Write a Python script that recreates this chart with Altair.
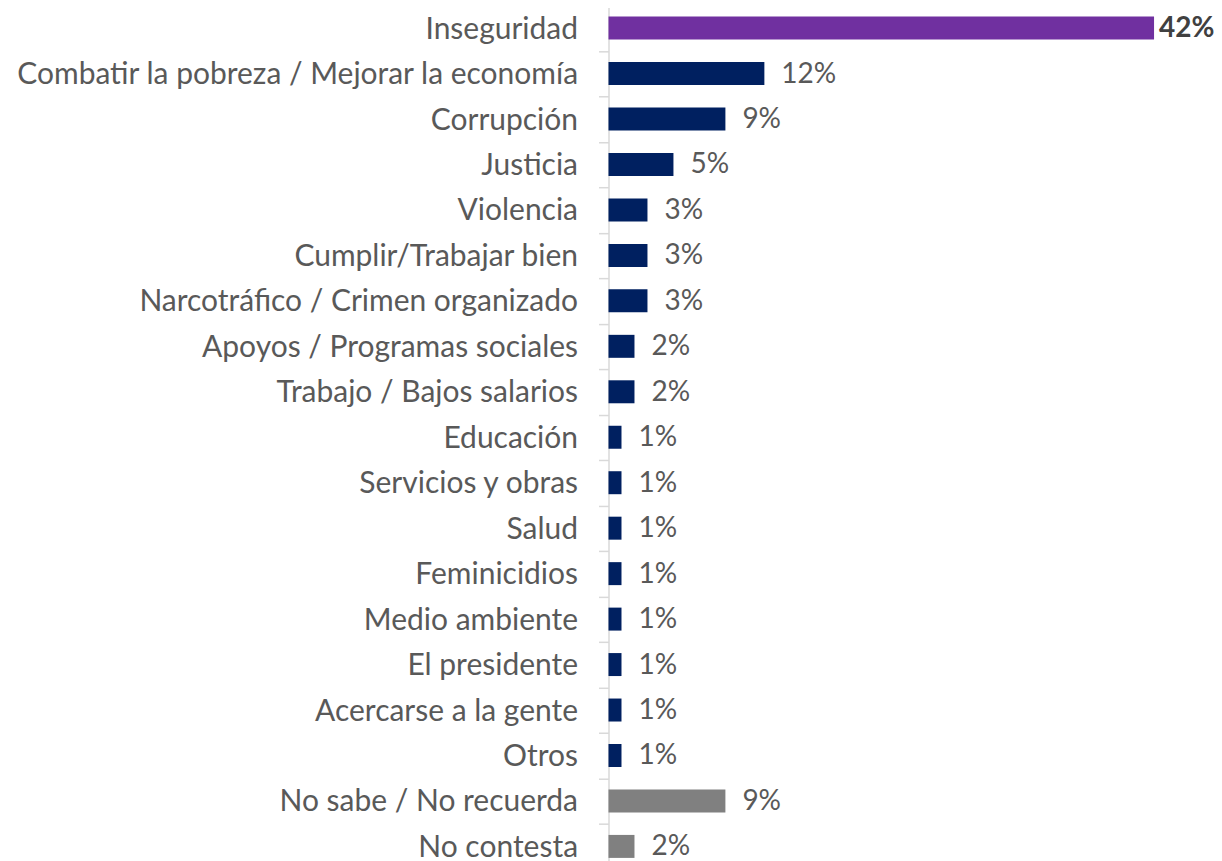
import altair as alt
import pandas as pd

categories = [
    "Inseguridad",
    "Combatir la pobreza / Mejorar la economía",
    "Corrupción",
    "Justicia",
    "Violencia",
    "Cumplir/Trabajar bien",
    "Narcotráfico / Crimen organizado",
    "Apoyos / Programas sociales",
    "Trabajo / Bajos salarios",
    "Educación",
    "Servicios y obras",
    "Salud",
    "Feminicidios",
    "Medio ambiente",
    "El presidente",
    "Acercarse a la gente",
    "Otros",
    "No sabe / No recuerda",
    "No contesta",
]
values = [42, 12, 9, 5, 3, 3, 3, 2, 2, 1, 1, 1, 1, 1, 1, 1, 1, 9, 2]
groups = ["top"] + ["tema"] * 16 + ["ns"] * 2

group_names = ["top", "tema", "ns"]
group_colors = ["#7030A0", "#002060", "#808080"]

df = pd.DataFrame({"cat": categories, "val": values, "grp": groups})
df["label"] = df["val"].astype(str) + "%"

FONT = "Lato"
TXT = "#595959"

y_enc = alt.Y(
    "cat:N",
    sort=categories,
    title=None,
    scale=alt.Scale(paddingInner=0, paddingOuter=0),
    axis=alt.Axis(
        labelFont=FONT,
        labelFontSize=30,
        labelColor=TXT,
        labelLimit=800,
        labelPadding=21,
        labelOffset=1,
        tickBand="extent",
        tickSize=10,
        tickColor="#d9d9d9",
        tickWidth=1.5,
        domainColor="#d9d9d9",
        domainWidth=1.5,
        grid=False,
    ),
)
x_enc = alt.X("val:Q", axis=None, scale=alt.Scale(domain=[0, 42], nice=False, zero=True))

base = alt.Chart(df).encode(y=y_enc, x=x_enc)

bars = base.mark_bar(size=23).encode(
    color=alt.Color("grp:N", scale=alt.Scale(domain=group_names, range=group_colors), legend=None)
)

labels = base.transform_filter(alt.datum.grp != "top").mark_text(
    align="left", baseline="middle", dx=17, dy=1, font=FONT, fontSize=28, color=TXT
).encode(text="label:N")

top_label = base.transform_filter(alt.datum.grp == "top").mark_text(
    align="left", baseline="middle", dx=5, dy=1, font=FONT, fontSize=28, fontWeight="bold", color="#404040"
).encode(text="label:N")

chart = (
    alt.layer(bars, labels, top_label)
    .properties(
        width=546,
        height=864.5,
        autosize=alt.AutoSizeParams(type="none"),
        padding={"left": 601, "top": -3, "right": 60, "bottom": 0},
    )
    .configure_view(stroke=None)
)

chart.save("out.html", embed_options={"renderer": "svg", "actions": False})
